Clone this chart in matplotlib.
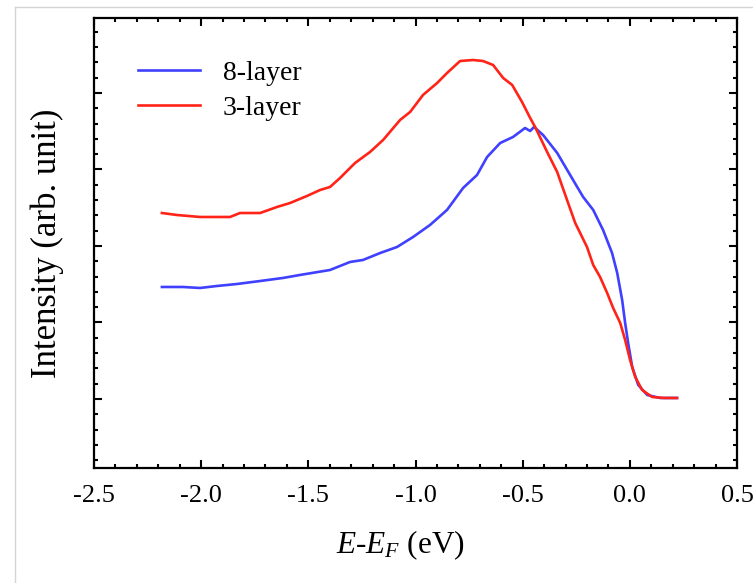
import numpy as np
import matplotlib
matplotlib.use('Agg')
import matplotlib.pyplot as plt
from matplotlib.ticker import MultipleLocator, FormatStrFormatter
from matplotlib.lines import Line2D

plt.rcParams['font.family'] = 'Liberation Serif'
plt.rcParams['mathtext.fontset'] = 'custom'
plt.rcParams['mathtext.rm'] = 'Liberation Serif'
plt.rcParams['mathtext.it'] = 'Liberation Serif:italic'

# 8-layer spectrum
x8 = [-2.183, -2.085, -2.005, -1.926, -1.833, -1.725, -1.618, -1.539, -1.399, -1.305,
      -1.245, -1.165, -1.086, -1.011, -0.932, -0.853, -0.778, -0.713, -0.666, -0.605,
      -0.545, -0.489, -0.465, -0.447, -0.405, -0.339, -0.265, -0.218, -0.171, -0.125,
      -0.083, -0.059, -0.036, -0.022, -0.008, 0.011, 0.039, 0.081, 0.141, 0.220]
y8 = [1.464, 1.464, 1.451, 1.477, 1.503, 1.542, 1.582, 1.621, 1.686, 1.791,
      1.817, 1.908, 1.987, 2.118, 2.275, 2.471, 2.758, 2.928, 3.163, 3.346,
      3.425, 3.542, 3.503, 3.556, 3.451, 3.216, 2.863, 2.641, 2.471, 2.209,
      1.908, 1.647, 1.294, 0.993, 0.732, 0.418, 0.183, 0.052, 0.013, 0.013]

# 3-layer spectrum
x3 = [-2.183, -2.113, -2.005, -1.865, -1.819, -1.725, -1.646, -1.585, -1.506, -1.445,
      -1.399, -1.352, -1.282, -1.212, -1.151, -1.072, -1.025, -0.965, -0.899, -0.853,
      -0.792, -0.731, -0.685, -0.638, -0.591, -0.549, -0.503, -0.465, -0.442, -0.386,
      -0.339, -0.293, -0.255, -0.200, -0.171, -0.139, -0.106, -0.078, -0.045,
      -0.022, 0.001, 0.025, 0.057, 0.104, 0.160, 0.220]
y3 = [2.431, 2.405, 2.379, 2.379, 2.431, 2.431, 2.510, 2.562, 2.654, 2.732,
      2.771, 2.889, 3.085, 3.229, 3.386, 3.647, 3.752, 3.974, 4.131, 4.261,
      4.418, 4.431, 4.418, 4.366, 4.196, 4.105, 3.882, 3.673, 3.556, 3.229,
      2.967, 2.601, 2.301, 1.987, 1.752, 1.595, 1.386, 1.190, 0.993,
      0.771, 0.510, 0.288, 0.118, 0.026, 0.013, 0.013]

fig = plt.figure(figsize=(7.53, 5.83), dpi=100)
ax = fig.add_axes([0.1248, 0.1973, 0.854, 0.7718])

ax.plot(x8, y8, color='#4040ff', lw=1.9, label='8-layer')
ax.plot(x3, y3, color='#ff2318', lw=1.9, label='3-layer')

ax.set_xlim(-2.5, 0.5)
ax.set_ylim(-0.902, 4.98)
ax.xaxis.set_major_locator(MultipleLocator(0.5))
ax.xaxis.set_minor_locator(MultipleLocator(0.1))
ax.yaxis.set_major_locator(MultipleLocator(1))
ax.yaxis.set_minor_locator(MultipleLocator(0.2))
ax.xaxis.set_major_formatter(FormatStrFormatter('%.1f'))
ax.tick_params(which='both', direction='in', top=True, right=True, width=1.5)
ax.tick_params(which='major', length=5.5, labelsize=19, pad=12)
ax.tick_params(which='minor', length=3)
ax.tick_params(axis='y', labelleft=False)
for s in ax.spines.values():
    s.set_linewidth(1.6)

ax.set_xlabel(r'$E$-$E_F$ (eV)', fontsize=22.5, labelpad=16)
ax.xaxis.label.set_x(0.477)
ax.set_ylabel('Intensity (arb. unit)', fontsize=25, labelpad=18)

ax.legend(loc='upper left', frameon=False, fontsize=20, handlelength=2.25,
          handletextpad=0.8, labelspacing=0.35, borderpad=0, borderaxespad=0,
          bbox_to_anchor=(0.0684, 0.906))

# screenshot frame lines
fig.add_artist(Line2D([15/753, 1], [1-7/583, 1-7/583], color='#d4d4d4', lw=1))
fig.add_artist(Line2D([15/753, 15/753], [0, 1-7/583], color='#d4d4d4', lw=1))

fig.savefig('out.png', dpi=100)
